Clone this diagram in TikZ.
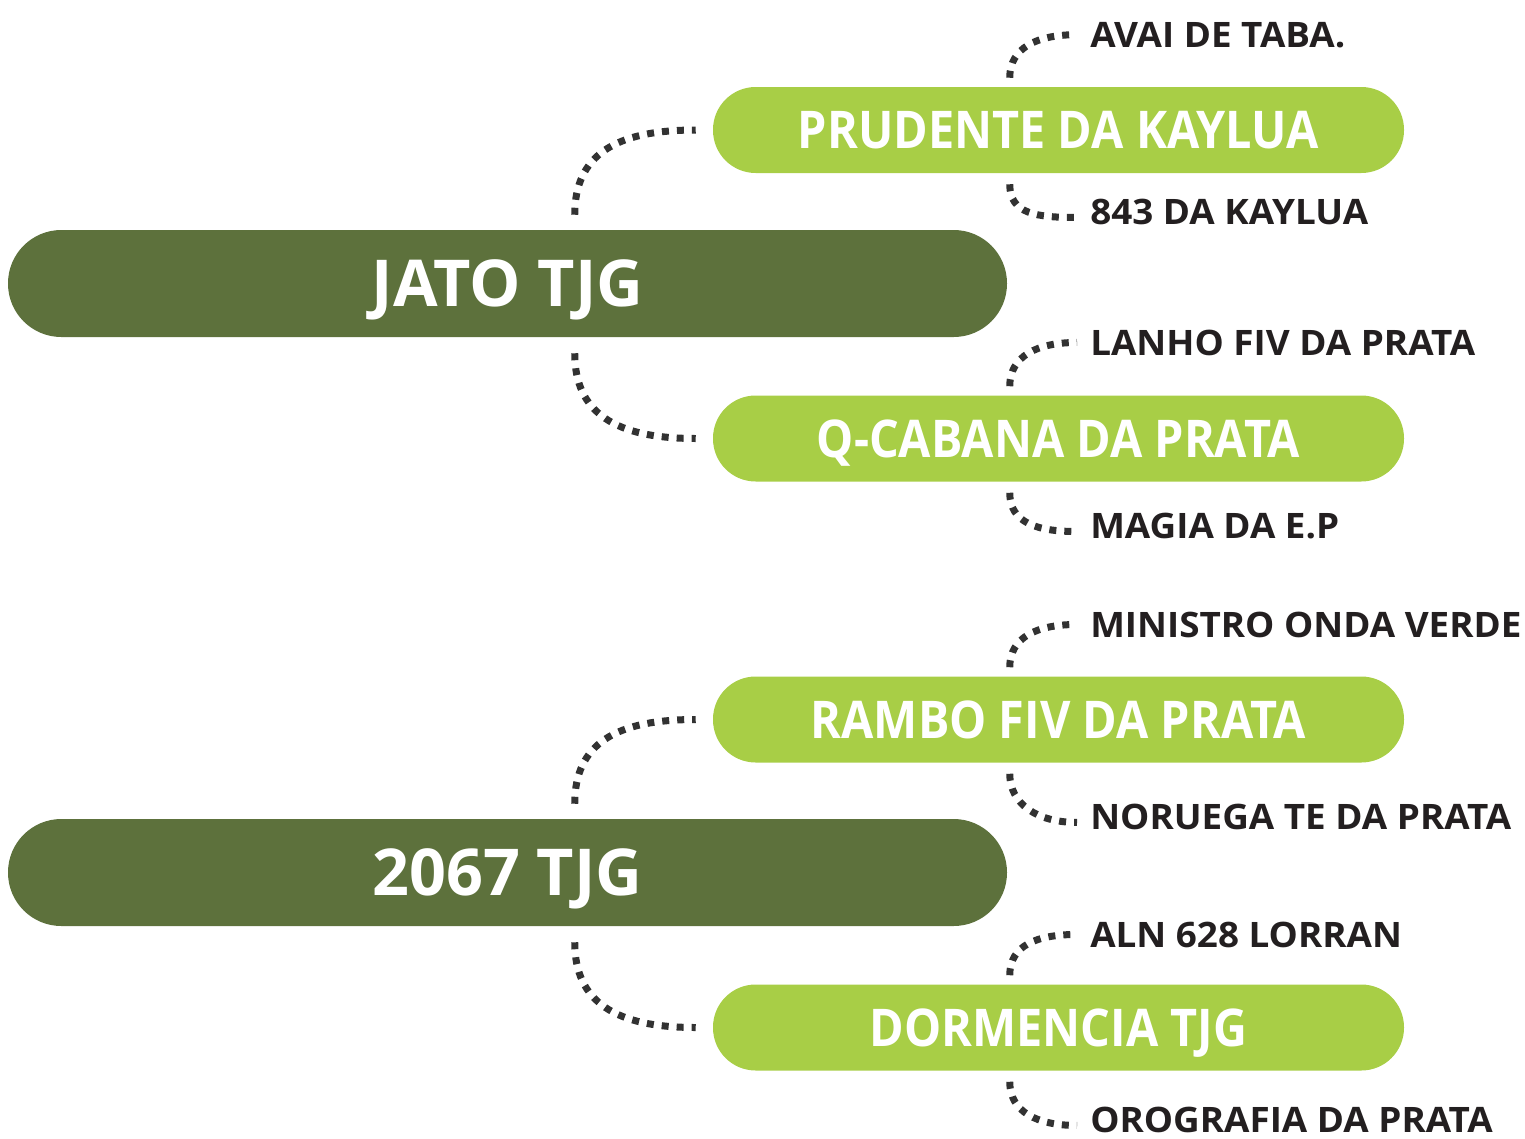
\documentclass[tikz,border=0pt]{standalone}
\usepackage{fontspec}
\setmainfont{Open Sans}
\newfontfamily\subfont[FakeStretch=0.90]{Open Sans}
\newfontfamily\leaffont[FakeStretch=1.05]{Open Sans}
\usepackage{tikz}
\usetikzlibrary{calc}

\definecolor{darkgreen}{RGB}{93,113,60}
\definecolor{lightgreen}{RGB}{168,206,70}
\definecolor{leaftext}{RGB}{35,31,32}
\definecolor{dotgray}{RGB}{50,50,50}

\tikzset{
  mainbar/.style={draw=none,fill=darkgreen,rounded corners=40pt,minimum width=749.25pt,minimum height=80.25pt,inner sep=0pt,text depth=0pt,text=white,font=\fontsize{48.5}{48.5}\selectfont\bfseries},
  subbar/.style={draw=none,fill=lightgreen,rounded corners=32pt,minimum width=518.25pt,minimum height=64.5pt,inner sep=0pt,text depth=0pt,text=white,font=\subfont\fontsize{39}{39}\selectfont\bfseries},
  leaf/.style={anchor=base west,inner sep=0pt,text=leaftext,font=\leaffont\fontsize{26.3}{26.3}\selectfont\bfseries},
  dotline/.style={draw=dotgray,line width=5.25pt,dash pattern=on 5.25pt off 6pt}
}

\begin{document}
\begin{tikzpicture}[x=0.75pt,y=0.75pt,yscale=-1,xscale=1]
\useasboundingbox (0,0) rectangle (1525,1139);

%Shape: Rounded Rect [main bars]
\node[mainbar] (jato) at (507.5,283.5) {JATO TJG};
\node[mainbar] (tjg) at (507.5,872.5) {2067 TJG};

%Shape: Rounded Rect [sub bars]
\node[subbar] (prudente) at (1058.5,130) {PRUDENTE DA KAYLUA};
\node[subbar] (cabana) at (1058.5,438.5) {Q-CABANA DA PRATA};
\node[subbar] (rambo) at (1058.5,719.5) {RAMBO FIV DA PRATA};
\node[subbar] (dormencia) at (1058.5,1027.5) {DORMENCIA TJG};

%Text [leaves]
\node[leaf] (avai) at (1090,47) {AVAI DE TABA.};
\node[leaf] (kaylua) at (1090,224) {843 DA KAYLUA};
\node[leaf] (lanho) at (1090,355) {LANHO FIV DA PRATA};
\node[leaf] (magia) at (1090,538) {MAGIA DA E.P};
\node[leaf] (ministro) at (1090,637) {MINISTRO ONDA VERDE};
\node[leaf] (noruega) at (1090,829) {NORUEGA TE DA PRATA};
\node[leaf] (aln) at (1090,947) {ALN 628 LORRAN};
\node[leaf] (orografia) at (1090,1132) {OROGRAFIA DA PRATA};

%Curve Lines [main to sub]
\draw[dotline] ($(jato.north west)+(567,-15)$) .. controls +(0,-60) and +(-80,0) .. ($(prudente.west)+(-17,0)$);
\draw[dotline] ($(jato.south west)+(567,16)$) .. controls +(0,60) and +(-80,0) .. ($(cabana.west)+(-17,0)$);
\draw[dotline] ($(tjg.north west)+(567,-15)$) .. controls +(0,-60) and +(-80,0) .. ($(rambo.west)+(-17,0)$);
\draw[dotline] ($(tjg.south west)+(567,16)$) .. controls +(0,60) and +(-80,0) .. ($(dormencia.west)+(-17,0)$);

%Curve Lines [sub to leaves]
\draw[dotline] ($(prudente.north west)+(297,-9)$) .. controls +(0,-30) and +(-40,0) .. ($(avai.west)+(-13,0)$);
\draw[dotline] ($(prudente.south west)+(297,11)$) .. controls +(0,30) and +(-40,0) .. ($(kaylua.west)+(-13,6)$);
\draw[dotline] ($(cabana.north west)+(297,-9)$) .. controls +(0,-30) and +(-40,0) .. ($(lanho.west)+(-13,0)$);
\draw[dotline] ($(cabana.south west)+(297,11)$) .. controls +(0,30) and +(-40,0) .. ($(magia.west)+(-13,6)$);
\draw[dotline] ($(rambo.north west)+(297,-9)$) .. controls +(0,-30) and +(-40,0) .. ($(ministro.west)+(-13,0)$);
\draw[dotline] ($(rambo.south west)+(297,11)$) .. controls +(0,30) and +(-40,0) .. ($(noruega.west)+(-13,6)$);
\draw[dotline] ($(dormencia.north west)+(297,-9)$) .. controls +(0,-30) and +(-40,0) .. ($(aln.west)+(-13,0)$);
\draw[dotline] ($(dormencia.south west)+(297,11)$) .. controls +(0,30) and +(-40,0) .. ($(orografia.west)+(-13,6)$);

\end{tikzpicture}
\end{document}
